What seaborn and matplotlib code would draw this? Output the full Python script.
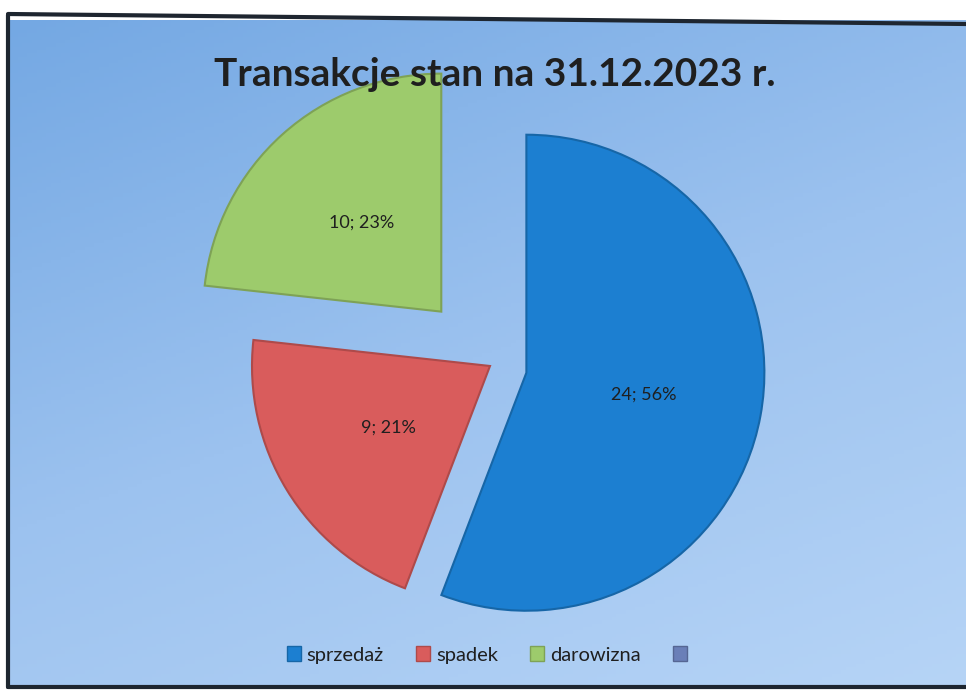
import numpy as np
import matplotlib
matplotlib.use("Agg")
import matplotlib.pyplot as plt
import seaborn as sns
from matplotlib.colors import LinearSegmentedColormap

# ---- data ----
categories = ["sprzedaż", "spadek", "darowizna", ""]
values = [24, 9, 10, 0]
title = "Transakcje stan na 31.12.2023 r."

sns.set_theme(style="white")
plt.rcParams['font.family'] = ['Lato', 'DejaVu Sans']

W, H = 966, 693
fig = plt.figure(figsize=(W / 100, H / 100), dpi=100)
fig.patch.set_facecolor("white")

# background axes (pixel coordinates, y downward)
bg = fig.add_axes([0, 0, 1, 1])
bg.set_xlim(0, W)
bg.set_ylim(H, 0)
bg.axis("off")
left, top, bottom = 8, 20, 687
yy, xx = np.mgrid[0:1:200j, 0:1:200j]
grad = 0.65 * yy + 0.35 * xx
cmap = LinearSegmentedColormap.from_list("bgc", ["#74a8e3", "#9cc2ef", "#b6d4f6"])
bg.imshow(grad, cmap=cmap, extent=(left, W, bottom, top), aspect="auto", zorder=0)
bg.plot([left, left], [top - 5, bottom], color="#1e2630", lw=3, zorder=2)
bg.plot([left, W], [top - 6, top + 4], color="#1e2630", lw=3, zorder=2)
bg.plot([left, W], [bottom, bottom], color="#1e2630", lw=3, zorder=2)

# pie axes in pixel coords (y upward)
ax = fig.add_axes([0, 0, 1, 1])
ax.patch.set_alpha(0)
colors = sns.color_palette(["#1c7fd1", "#d95c5c", "#9dcb6c", "#6a7fb8"])
total = sum(values)


def fmt(pct):
    v = pct * total / 100.0
    if v < 0.5:
        return ""
    return f"{int(round(v))}; {pct:.0f}%"


wedges, texts = ax.pie(
    values,
    colors=colors,
    startangle=90,
    counterclock=False,
    center=(490, H - 366),
    radius=238,
    explode=[37, 0, 73, 0],
    labels=None,
    wedgeprops=dict(linewidth=0),
)[:2]
# outline for bevel-like edge
for w, c, v in zip(wedges, colors, values):
    if v == 0:
        w.set_visible(False)
        continue
    w.set_edgecolor(tuple(max(0, x * 0.8) for x in c))
    w.set_linewidth(1.5)

# data labels, placed by pie's own geometry
for w, v in zip(wedges, values):
    if v == 0:
        continue
    pct = 100 * v / total
    thm = np.deg2rad((w.theta1 + w.theta2) / 2)
    cx, cy = w.center
    d = 0.5 * w.r
    ax.text(cx + d * np.cos(thm), cy + d * np.sin(thm), fmt(pct),
            ha="center", va="center", fontsize=13, color="#1f1f1f")

ax.set_xlim(0, W)
ax.set_ylim(0, H)
ax.set_aspect("equal")
ax.axis("off")

fig.text(495 / W, 1 - 74 / H, title, ha="center", va="center",
         fontsize=28, fontweight="bold", color="#1f1f1f")

# legend handles (4th, empty category keeps its coloured key)
from matplotlib.patches import Patch
handles = [Patch(facecolor=c, edgecolor=tuple(x * 0.8 for x in c)) for c in colors]
leg = fig.legend(handles, categories, loc="center", bbox_to_anchor=(490 / W, 1 - 655 / H),
                 ncol=4, frameon=False, fontsize=14.5, handlelength=0.7, handleheight=0.7,
                 handletextpad=0.3, columnspacing=1.6)
for t in leg.get_texts():
    t.set_color("#1f1f1f")

fig.savefig("out.png", dpi=100, facecolor=fig.get_facecolor())
